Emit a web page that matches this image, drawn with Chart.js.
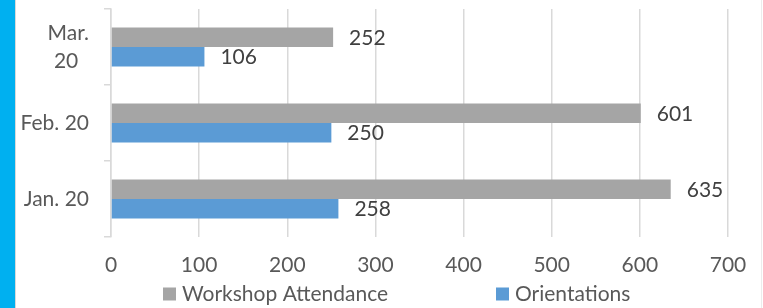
<!DOCTYPE html>
<html>
<head>
<meta charset="utf-8">
<script src="https://cdn.jsdelivr.net/npm/chart.js@4.4.0/dist/chart.umd.min.js"></script>
<style>
  html, body { margin: 0; padding: 0; background: #fff; }
  body { width: 763px; height: 308px; overflow: hidden; position: relative; }
  .strip { position: absolute; left: 0; top: 0; width: 15px; height: 308px; background: #00b0f0; border-right: 1px solid #d9d9d9; }
  .edge { position: absolute; left: 761px; top: 0; width: 1px; height: 308px; background: #ececec; }
  #salesChart { position: absolute; left: 0; top: 0; }
</style>
</head>
<body>
<div class="strip"></div>
<div class="edge"></div>
<canvas id="salesChart" width="763" height="308"></canvas>
<script>
const months = [["Mar.", "20  "], "Feb. 20", "Jan. 20"];
const workshopAttendance = [252, 601, 635];
const orientations = [106, 250, 258];
const seriesNames = ["Workshop Attendance", "Orientations"];
const seriesColors = ["#a5a5a5", "#5b9bd5"];
const xMin = 0;
const xMax = 700;
const xStep = 100;

const fontFamily = "Lato, 'Open Sans', sans-serif";
const axisText = "#595959";
const gridColor = "#d9d9d9";

// value next to the end of each bar
const barValueLabels = {
  id: "barValueLabels",
  afterDatasetsDraw(chart) {
    const { ctx } = chart;
    ctx.save();
    ctx.font = `21px ${fontFamily}`;
    ctx.fillStyle = "#404040";
    ctx.textAlign = "left";
    ctx.textBaseline = "middle";
    chart.data.datasets.forEach((dataset, i) => {
      chart.getDatasetMeta(i).data.forEach((bar, j) => {
        ctx.fillText(dataset.data[j], bar.x + 16, bar.y + 1);
      });
    });
    ctx.restore();
  },
};

// excel-like legend, items spread apart under the axis
const bottomLegend = {
  id: "bottomLegend",
  afterDraw(chart) {
    const { ctx } = chart;
    const boxLefts = [163, 496];
    const y = 294;
    ctx.save();
    ctx.font = `21px ${fontFamily}`;
    ctx.textAlign = "left";
    ctx.textBaseline = "middle";
    chart.data.datasets.forEach((dataset, i) => {
      ctx.fillStyle = dataset.backgroundColor;
      ctx.fillRect(boxLefts[i], y - 6.5, 13, 13);
      ctx.fillStyle = axisText;
      ctx.fillText(dataset.label, boxLefts[i] + 19, y);
    });
    ctx.restore();
  },
};

const ctx = document.getElementById("salesChart").getContext("2d");

// eslint-disable-next-line no-undef
const salesChart = new Chart(ctx, {
  type: "bar",
  data: {
    labels: months,
    datasets: [
      {
        label: seriesNames[0],
        data: workshopAttendance,
        backgroundColor: seriesColors[0],
        categoryPercentage: 0.51,
        barPercentage: 1,
      },
      {
        label: seriesNames[1],
        data: orientations,
        backgroundColor: seriesColors[1],
        categoryPercentage: 0.51,
        barPercentage: 1,
      },
    ],
  },
  options: {
    indexAxis: "y",
    responsive: false,
    animation: false,
    devicePixelRatio: 1,
    layout: {
      padding: { top: 9, right: 35, bottom: 0, left: 0 },
    },
    plugins: {
      legend: { display: false },
      tooltip: { enabled: false },
    },
    scales: {
      x: {
        min: xMin,
        max: xMax,
        ticks: {
          stepSize: xStep,
          color: axisText,
          font: { family: fontFamily, size: 21 },
          padding: 16,
          maxRotation: 0,
        },
        grid: { color: gridColor, lineWidth: 1.5, drawTicks: false },
        border: { display: false },
        afterFit: (scale) => {
          scale.height = 71;
        },
      },
      y: {
        ticks: {
          color: axisText,
          font: { family: fontFamily, size: 21, lineHeight: 1.33 },
          padding: 15,
        },
        grid: {
          color: gridColor,
          lineWidth: 1.5,
          drawOnChartArea: false,
          tickLength: 7,
          offset: true,
        },
        border: { color: gridColor, width: 1.5 },
        afterFit: (scale) => {
          scale.width = 111;
          // the two-line top label should not push the plot down
          scale.paddingTop = 0;
          scale.paddingBottom = 0;
        },
      },
    },
  },
  plugins: [barValueLabels, bottomLegend],
});
</script>
</body>
</html>
